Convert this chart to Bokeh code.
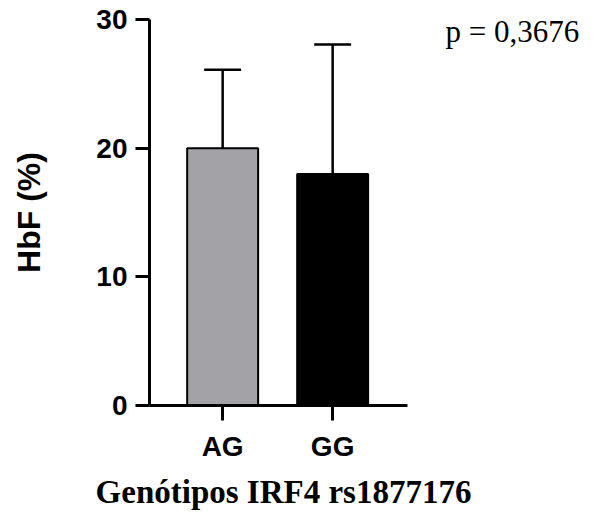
from bokeh.plotting import figure
from bokeh.models import Range1d, FixedTicker, Label, ColumnDataSource
from bokeh.layouts import row, column
from bokeh.embed import file_html
from bokeh.resources import INLINE

# data
genotypes = ["AG", "GG"]
positions = [1, 2]
means = [20.0, 18.0]
sd_upper = [6.1, 10.05]
bar_colors = ["#a3a2a6", "#000000"]
y_ticks = [0, 10, 20, 30]
p_text = "p = 0,3676"
x_title = "Genótipos IRF4 rs1877176"
y_title = "HbF (%)"

tops = [m + e for m, e in zip(means, sd_upper)]
bar_w = 0.645
cap_w = 0.336
axis_span = (0.335, 2.68)

src = ColumnDataSource(dict(
    x=positions, top=means, color=bar_colors, err_top=tops,
    cap_l=[x - cap_w / 2 for x in positions],
    cap_r=[x + cap_w / 2 for x in positions],
))


def blank(w, h):
    f = figure(width=w, height=h, output_backend="svg", toolbar_location=None,
               title=None,
               x_range=Range1d(0, w), y_range=Range1d(0, h),
               x_axis_type=None, y_axis_type=None,
               min_border_left=0, min_border_right=0,
               min_border_top=0, min_border_bottom=0)
    f.outline_line_color = None
    f.xgrid.visible = False
    f.ygrid.visible = False
    f.border_fill_color = "white"
    f.background_fill_color = "white"
    return f


p = figure(width=427, height=470, output_backend="svg", toolbar_location=None,
           x_range=Range1d(0.335, 0.335 + 268 / 110.0), y_range=Range1d(0, 30),
           min_border_left=149, min_border_right=10,
           min_border_top=19, min_border_bottom=65)
p.outline_line_color = None
p.xgrid.visible = False
p.ygrid.visible = False
p.background_fill_color = "white"
p.border_fill_color = "white"

# error bars (upper only)
p.segment(x0="x", y0="top", x1="x", y1="err_top", source=src,
          line_color="black", line_width=2.5)
p.segment(x0="cap_l", y0="err_top", x1="cap_r", y1="err_top", source=src,
          line_color="black", line_width=2.5)

p.vbar(x="x", top="top", bottom=0, width=bar_w, source=src,
       fill_color="color", line_color="black", line_width=2)

# axes
for ax in (p.xaxis[0], p.yaxis[0]):
    ax.axis_line_width = 3
    ax.axis_line_color = "black"
    ax.major_tick_line_width = 3
    ax.major_tick_line_color = "black"
    ax.major_tick_in = 0
    ax.minor_tick_line_color = None
    ax.major_label_text_font = "Liberation Sans"
    ax.major_label_text_font_style = "bold"
    ax.major_label_text_font_size = "28px"
    ax.major_label_text_color = "black"

p.yaxis.ticker = FixedTicker(ticks=y_ticks)
p.yaxis.major_tick_out = 14
p.yaxis.major_label_standoff = 8
p.yaxis.axis_label = y_title
p.yaxis.axis_label_text_font = "Liberation Sans"
p.yaxis.axis_label_text_font_style = "bold"
p.yaxis.axis_label_text_font_size = "32px"
p.yaxis.axis_label_text_color = "black"
p.yaxis.axis_label_standoff = 46

p.xaxis.ticker = FixedTicker(ticks=positions)
p.xaxis.bounds = axis_span
p.xaxis.major_label_overrides = {pos: g for pos, g in zip(positions, genotypes)}
p.xaxis.major_tick_out = 15
p.xaxis.major_label_standoff = 10

# side panel holding the p value
q = blank(166, 470)
q.add_layout(Label(x=18, y=476.6, text=p_text, text_align="left",
                   text_baseline="top", text_font="Liberation Serif",
                   text_font_size="31px", text_color="black"))

# bottom panel holding the x title
t = blank(593, 50)
t.add_layout(Label(x=283, y=46.4, text=x_title, text_align="center",
                   text_baseline="top", text_font="Liberation Serif",
                   text_font_style="bold", text_font_size="33px",
                   text_color="black"))

layout = column(row(p, q, spacing=0), t, spacing=0)
open("out.html", "w").write(file_html(layout, INLINE))
